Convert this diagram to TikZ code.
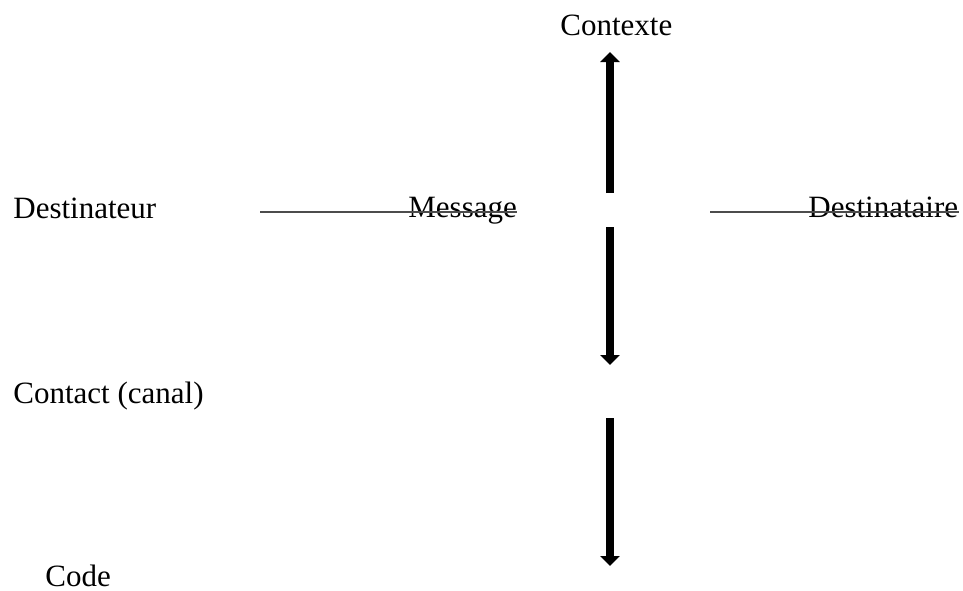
\documentclass[tikz,border=0pt]{standalone}
\usepackage{fontspec}
\setmainfont{Liberation Serif}
\usetikzlibrary{arrows.meta}
\tikzset{ % styles
    txt/.style={anchor=base west, inner sep=0pt, font=\fontsize{15.5}{18}\selectfont},
    fleche/.style={line width=4pt, -{Triangle[width=9.5pt,length=5pt]}},
    trait/.style={color=black!70, line width=0.7pt},
}

\begin{document}
\begin{tikzpicture}[x=0.5pt,y=-0.5pt]
		\useasboundingbox (0,0) rectangle (963,590);
		\node[txt] (ctx) at (560,35) {Contexte};
		\node[txt] (dst) at (13,218) {Destinateur};
		\node[txt] (msg) at (408,217) {Message};
		\node[txt] (dre) at (808,217) {Destinataire};
		\node[txt] (cnt) at (13,403) {Contact (canal)};
		\node[txt] (cod) at (45,586) {Code};
		% traits horizontaux
		\coordinate (t1) at (260,212);
		\coordinate (t2) at (710,212);
		\draw[trait] (t1) -- (t1 -| msg.east);
		\draw[trait] (t2) -- (t2 -| dre.east);
		% fleches
		\coordinate (a0) at (610,193);
		\coordinate (a1) at (610,52);
		\coordinate (b0) at (610,227);
		\coordinate (b1) at (610,365);
		\coordinate (c0) at (610,418);
		\coordinate (c1) at (610,566);
		\draw[fleche] (a0) -- (a1);
		\draw[fleche] (b0) -- (b1);
		\draw[fleche] (c0) -- (c1);
	\end{tikzpicture}
\end{document}
